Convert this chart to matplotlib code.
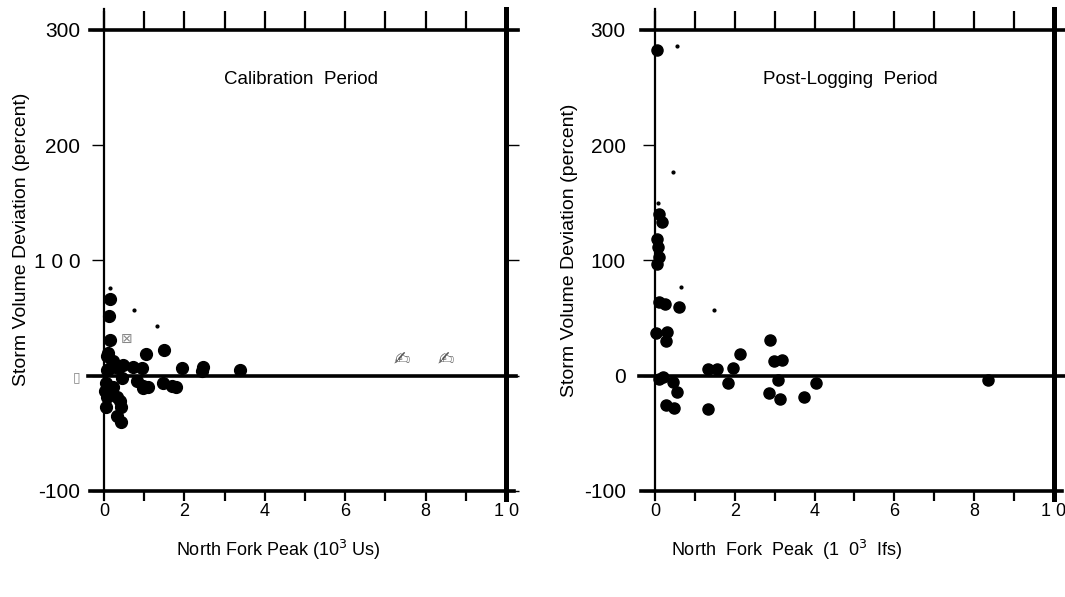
import matplotlib.pyplot as plt
import numpy as np

# Calibration period (left panel) -- peak in 10^3 units, deviation in percent
cal_x = [0.15, 0.13, 0.15, 0.11, 0.07, 1.04, 1.48, 0.23, 0.48, 0.71, 0.94, 0.15,
         0.35, 1.95, 2.47, 2.43, 3.37, 0.07, 0.44, 0.05, 0.23, 0.81, 0.96, 1.10,
         1.46, 1.68, 1.79, 0.07, 0.32, 0.40, 0.05, 0.42, 0.32, 0.42, 0.02, 0.98]
cal_y = [67, 52, 31, 20, 17, 19, 22, 13, 9, 7.5, 6.7, 6.7,
         7, 7, 7.5, 3.7, 5, 5, -2, -6, -10, -5, -9, -10,
         -6, -9, -10, -18.5, -18.5, -22, -27.5, -27.5, -35, -40, -13.6, -11]
cal_speck_x = [0.15, 0.75, 1.31]
cal_speck_y = [76, 57, 43]
cal_odd_x = [7.4, 8.5]
cal_odd_y = [14, 14]

# Post-logging period (right panel)
post_x = [0.04, 0.10, 0.18, 0.04, 0.07, 0.10, 0.04, 0.11, 0.25, 0.61, 0.03, 0.31,
          0.28, 0.11, 0.21, 0.46, 0.56, 0.28, 0.48, 1.33, 1.56, 1.95, 2.12, 1.82,
          1.34, 2.88, 2.98, 3.18, 3.09, 2.87, 3.13, 3.74, 4.04, 8.34]
post_y = [283, 140, 133, 119, 112, 103, 97, 64, 62, 60, 37, 38,
          30, -2.6, -1.2, -5.5, -14, -25.7, -28, 6, 6, 6.6, 18.7, -6.4,
          -28.6, 31, 12.4, 14, -4, -15, -20, -18.5, -6, -4]
post_speck_x = [0.54, 0.44, 0.08, 0.64, 1.49]
post_speck_y = [286, 177, 150, 77, 57]

xtick_vals = list(range(0, 11))
xtick_text = ['0', '', '2', '', '4', '', '6', '', '8', '', '1 0']

NARROW = ['Liberation Sans Narrow', 'Liberation Sans', 'DejaVu Sans']
SANS = ['Liberation Sans', 'DejaVu Sans']


def frame(ax, ylabels, xlabel, title, right_ticks, ypad, ylpad):
    ax.set_xlim(0, 10)
    ax.set_ylim(-100, 300)
    for s in ax.spines.values():
        s.set_visible(False)
    # hand-drawn looking frame, lines run a little past the corners
    ax.axhline(300, xmin=-0.035, xmax=1.03, color='k', lw=2.6, clip_on=False)
    ax.axhline(-100, xmin=-0.035, xmax=1.02, color='k', lw=2.6, clip_on=False)
    ax.axhline(0, xmin=-0.04, xmax=1.025, color='k', lw=2.6, clip_on=False)
    ax.axvline(0, ymin=-0.02, ymax=1.045, color='k', lw=1.6, clip_on=False)
    ax.axvline(10, ymin=-0.018, ymax=1.045, color='k', lw=3.6, clip_on=False)

    ax.set_xticks(xtick_vals)
    ax.set_xticklabels(xtick_text, family=NARROW, fontsize=13)
    ax.tick_params(axis='x', top=True, bottom=True, direction='out',
                   length=7, width=1.6, pad=1.5)
    for t in ax.xaxis.get_major_ticks():
        t.tick2line.set_markersize(14)
    # the end ticks are covered by the frame lines
    for i in (0, -1):
        t = ax.xaxis.get_major_ticks()[i]
        t.tick1line.set_visible(False)

    ax.set_yticks([-100, 0, 100, 200, 300])
    ax.set_yticklabels(ylabels, family=SANS, fontsize=15)
    ax.tick_params(axis='y', left=True, right=right_ticks, direction='out',
                   length=9, width=1.0, pad=ypad)

    ax.set_xlabel(xlabel, family=NARROW, fontsize=13, labelpad=13)
    ax.set_ylabel('Storm Volume Deviation (percent)', family=SANS,
                  fontsize=14, labelpad=ylpad)
    ax.text(4.9, 257, title, ha='center', va='center', family=SANS,
            fontsize=13.5)


fig = plt.figure(figsize=(10.65, 5.97), dpi=100)
ax1 = fig.add_axes([0.0977, 0.1776, 0.3775, 0.7722])
ax2 = fig.add_axes([0.615, 0.1776, 0.3746, 0.7722])

frame(ax1, ['-100', '\u25af', '1 0 0', '200', '300'],
      'North Fork Peak (10$^3$ Us)', 'Calibration  Period', True, 8, 3)
ax1.get_yticklabels()[1].set_color('#888888')
ax1.get_yticklabels()[1].set_fontsize(10)
ax1.yaxis.label.set_position((0, 0.545))
ax1.xaxis.label.set_position((0.433, 0))

frame(ax2, ['-100', '0', '100', '200', '300'],
      'North  Fork  Peak  (1  0$^3$  Ifs)', 'Post-Logging  Period', False, 12, 4)
ax2.yaxis.label.set_position((0, 0.523))
ax2.xaxis.label.set_position((0.33, 0))

ax1.plot(cal_x, cal_y, 'o', color='k', ms=8.5, clip_on=False, zorder=5)
ax1.plot(cal_speck_x, cal_speck_y, 'o', color='k', ms=2, zorder=5)
for x, y in zip(cal_odd_x, cal_odd_y):
    ax1.text(x, y, '\u270d', ha='center', va='center', fontsize=14,
             color='#555555', family='DejaVu Sans')
ax1.text(0.57, 32, '\u22a0', ha='center', va='center', fontsize=10,
         color='#888888', family='DejaVu Sans')

ax2.plot(post_x, post_y, 'o', color='k', ms=8, clip_on=False, zorder=5)
ax2.plot(post_speck_x, post_speck_y, 'o', color='k', ms=2, zorder=5)

fig.savefig('out.png', dpi=100)
